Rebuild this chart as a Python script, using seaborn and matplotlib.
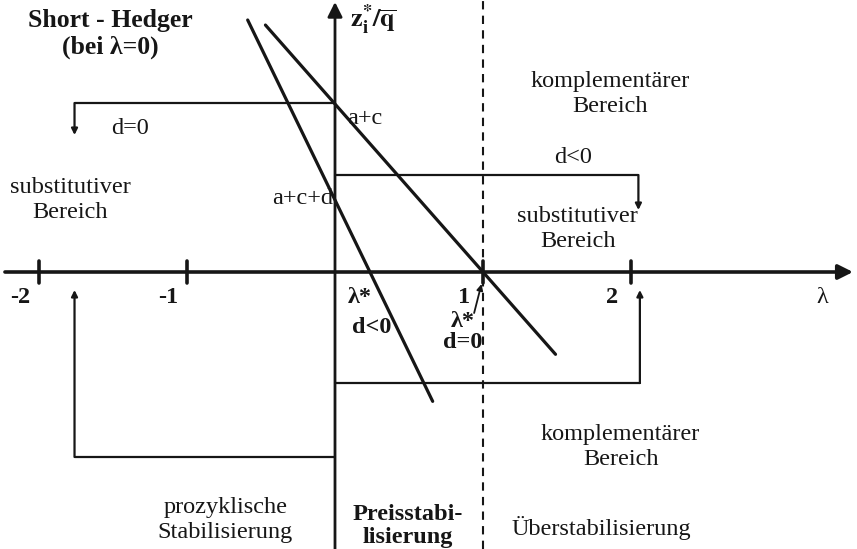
import matplotlib.pyplot as plt
import seaborn as sns
import pandas as pd
import numpy as np

# lambda axis ticks
lam_ticks = [-2, -1, 1, 2]
lam_labels = ['-2', '-1', '1', '2']

# two hedge lines z*/q over lambda: (intercept, root, lambda range)
line_d0 = {'intercept': 1.68, 'root': 1.0, 'lam': [-0.47, 1.49]}      # a+c, d=0
line_dneg = {'intercept': 0.72, 'root': 0.236, 'lam': [-0.59, 0.66]}  # a+c+d, d<0

# bracket polylines (lambda, z) - arrows at the last point
br_top_left = ([0, -1.76, -1.76], [1.69, 1.69, 1.37])
br_top_right = ([0, 2.05, 2.05], [0.97, 0.97, 0.62])
br_bot_right = ([0, 2.06, 2.06], [-1.11, -1.11, -0.18])
br_bot_left = ([0, -1.76, -1.76], [-1.85, -1.85, -0.18])

rows = []
for name, ln in [('d=0', line_d0), ('d<0', line_dneg)]:
    slope = -ln['intercept'] / ln['root']
    for lam in ln['lam']:
        rows.append({'lam': lam, 'z': ln['intercept'] + slope * lam, 'case': name})
df = pd.DataFrame(rows)

sns.set_style('white')
plt.rcParams['font.family'] = ['Liberation Serif', 'DejaVu Serif']
plt.rcParams['mathtext.fontset'] = 'stix'

fig = plt.figure(figsize=(8.57, 5.49), dpi=100)
ax = fig.add_axes([0, 0, 1, 1])
ax.set_xlim(-335 / 148, 522 / 148)
ax.set_ylim(-2.77, 2.72)
ax.axis('off')

ink = '#161616'
sns.lineplot(data=df, x='lam', y='z', units='case', estimator=None,
             color=ink, lw=2.3, ax=ax, legend=False)

# axes with arrows
arr = dict(arrowstyle='-|>', color=ink, mutation_scale=22, shrinkA=0, shrinkB=0)
ax.annotate('', xy=(3.50, 0), xytext=(-2.23, 0), arrowprops=dict(arr, lw=2.6),
            annotation_clip=False)
ax.annotate('', xy=(0, 2.70), xytext=(0, -2.77), arrowprops=dict(arr, lw=2.0),
            annotation_clip=False)
for t in lam_ticks:
    ax.plot([t, t], [-0.11, 0.11], color=ink, lw=2.6)
ax.axvline(1.0, color=ink, lw=1.5, ls=(0, (4, 3)))

# brackets
small = dict(arrowstyle='-|>', color=ink, mutation_scale=9, lw=1.6, shrinkA=0, shrinkB=0)
for xs, ys in [br_top_left, br_top_right, br_bot_right, br_bot_left]:
    ax.plot(xs[:-1], ys[:-1], color=ink, lw=1.6)
    ax.annotate('', xy=(xs[-1], ys[-1]), xytext=(xs[-2], ys[-2]), arrowprops=small)
ax.annotate('', xy=(0.99, -0.12), xytext=(0.94, -0.41), arrowprops=dict(small, lw=1.3))

kw = dict(ha='center', va='center', color=ink)
fs = 17.5
ls2 = 1.22
for t, lab in zip(lam_ticks, lam_labels):
    ax.text(t - 0.13, -0.25, lab, fontsize=fs, fontweight='bold', **kw)
ax.text(3.29, -0.25, 'λ', fontsize=fs, **kw)

ax.text(-1.52, 2.52, 'Short - Hedger', fontsize=18.5, fontweight='bold', **kw)
ax.text(-1.52, 2.25, '(bei λ=0)', fontsize=18.5, fontweight='bold', **kw)
ax.text(0.26, 2.52, r'$\mathbf{z_i^{*}/\overline{q}}$', fontsize=19, **kw)
ax.text(0.08, 1.54, 'a+c', fontsize=fs, ha='left', va='center', color=ink)
ax.text(-0.01, 0.74, 'a+c+d', fontsize=fs, ha='right', va='center', color=ink)
ax.text(-1.385, 1.44, 'd=0', fontsize=fs, **kw)
ax.text(-1.79, 0.72, 'substitutiver\nBereich', fontsize=fs, linespacing=ls2, **kw)
ax.text(1.86, 1.78, 'komplementärer\nBereich', fontsize=fs, linespacing=ls2, **kw)
ax.text(1.61, 1.15, 'd<0', fontsize=fs, **kw)
ax.text(1.64, 0.43, 'substitutiver\nBereich', fontsize=fs, linespacing=ls2, **kw)

ax.text(0.17, -0.25, 'λ*', fontsize=fs, fontweight='bold', **kw)
ax.text(0.25, -0.55, 'd<0', fontsize=fs, fontweight='bold', **kw)
ax.text(0.865, -0.49, 'λ*', fontsize=fs, fontweight='bold', **kw)
ax.text(0.86, -0.70, 'd=0', fontsize=fs, fontweight='bold', **kw)

ax.text(1.93, -1.75, 'komplementärer\nBereich', fontsize=fs, linespacing=ls2, **kw)
ax.text(-0.74, -2.48, 'prozyklische\nStabilisierung', fontsize=fs, linespacing=ls2, **kw)
ax.text(0.49, -2.54, 'Preisstabi-\nlisierung', fontsize=fs, fontweight='bold', linespacing=1.12, **kw)
ax.text(1.80, -2.56, 'Überstabilisierung', fontsize=fs, **kw)

fig.savefig('out.png', dpi=100, facecolor='white')
